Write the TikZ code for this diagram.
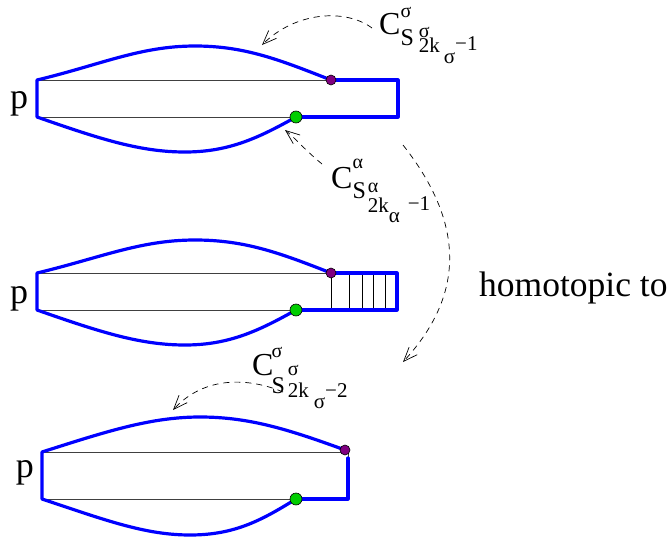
\documentclass[tikz,border=0pt]{standalone}
\usepackage{fontspec}
\setmainfont{Liberation Serif}
\usetikzlibrary{arrows.meta}
\definecolor{fblue}{RGB}{0,0,255}
\definecolor{fpurple}{RGB}{128,0,128}
\definecolor{fgreen}{RGB}{0,205,0}
\newcommand\fC{\fontsize{32}{32}\selectfont}
\newcommand\fS{\fontsize{24}{24}\selectfont}
\newcommand\fG{\fontsize{20}{20}\selectfont}
\newcommand\fK{\fontsize{21}{21}\selectfont}
\newcommand\sx[2]{\raisebox{#1pt}{#2}}
\begin{document}
\begin{tikzpicture}[x=1pt,y=-1pt,
  blueline/.style={draw=fblue,line width=3.2pt,line join=round,line cap=round},
  thinline/.style={draw=black!75,line width=0.8pt},
  hatch/.style={draw=black,line width=0.8pt},
  dot/.style={circle,draw=black,line width=0.6pt,inner sep=0pt,minimum size=#1},
  conn/.style={dash pattern=on 6pt off 5pt,line width=0.7pt,-{Straight Barb[length=14pt,width=11pt]}},
  lab/.style={anchor=base west,inner sep=0pt},
  plab/.style={anchor=base,inner sep=0pt,font=\fontsize{36}{36}\selectfont}]
\useasboundingbox (0,0) rectangle (670,541);

% ---------- top figure ----------
\node[plab] (p1) at (19,108) {p};
\draw[thinline] (37,80) -- (331,80);
\draw[thinline] (37,117) -- (296,117);
\draw[blueline] (331,80) -- (398,80) -- (398,117) -- (296,117);
\draw[blueline] (296,117) .. controls (260,137) and (230,152) .. (185,152)
  .. controls (140,152) and (100,139) .. (37,117) -- (37,80)
  .. controls (100,65) and (140,46) .. (195,46)
  .. controls (245,46) and (280,60) .. (331,80);
\node[dot=10pt,fill=fpurple] (pu1) at (331,80) {};
\node[dot=12pt,fill=fgreen] (gr1) at (296,117) {};

% ---------- middle figure ----------
\node[plab] (p2) at (19,303) {p};
\draw[thinline] (37,273) -- (331,273);
\draw[thinline] (37,310) -- (296,310);
\foreach \hx in {331,349,362,373,385} {\draw[hatch] (\hx,273) -- (\hx,310);}
\draw[blueline] (331,273) -- (397,273) -- (397,310) -- (296,310);
\draw[blueline] (296,310) .. controls (260,330) and (230,345) .. (185,345)
  .. controls (140,345) and (100,332) .. (37,310) -- (37,273)
  .. controls (100,258) and (140,240) .. (195,240)
  .. controls (245,240) and (280,253) .. (331,273);
\node[dot=10pt,fill=fpurple] (pu2) at (331,273) {};
\node[dot=12pt,fill=fgreen] (gr2) at (296,310) {};

% ---------- bottom figure ----------
\node[plab] (p3) at (25,477) {p};
\draw[thinline] (42,452) -- (345,452);
\draw[thinline] (42,499) -- (296,499);
\draw[thinline] (348,452) -- (348,458);
\draw[blueline] (348,458) -- (348,499) -- (296,499);
\draw[blueline] (296,499) .. controls (262,520) and (235,535) .. (190,535)
  .. controls (145,535) and (105,520) .. (42,499) -- (42,452)
  .. controls (105,432) and (150,417) .. (200,417)
  .. controls (250,417) and (290,430) .. (345,450);
\node[dot=10pt,fill=fpurple] (pu3) at (345,450) {};
\node[dot=12pt,fill=fgreen] (gr3) at (296,499) {};

% ---------- labels ----------
\node[lab] (c1) at (379,34) {{\fC C}\rlap{\sx{17}{\fG σ}}\sx{-11}{\fS S\kern5pt\rlap{\sx{8}{\fG σ}}\sx{-7}{\fK 2k\kern4pt\sx{-11}{σ}\sx{2}{−1}}}};
\node[lab] (c2) at (331,188) {{\fC C}\rlap{\sx{20}{\fG α}}\sx{-10}{\fS S\kern2pt\rlap{\sx{6}{\fG α}}\sx{-14}{\fK 2k\sx{-10}{α}\kern8pt\sx{2}{−1}}}};
\node[lab] (c3) at (252,375) {{\fC C}\kern-2pt\rlap{\sx{18}{\fG σ}}\sx{-18}{\fS S\kern3pt\rlap{\sx{18}{\fG σ}}\sx{-4}{\fK 2k\kern5pt\sx{-11}{σ}\sx{0}{−2}}}};
\node[anchor=base west,inner sep=0pt,font=\fontsize{35.5}{36}\selectfont] (hom) at (479,296) {homotopic to};

% ---------- connectors ----------
\coordinate (t1) at (262,45);
\coordinate (t2) at (285,130);
\coordinate (s3) at (403,145);
\coordinate (t3) at (403,362);
\coordinate (t4) at (173,410);
\draw[conn] ([xshift=-7pt,yshift=6pt]c1.base west) .. controls (345,8) and (295,12) .. (t1);
\draw[conn] ([xshift=-9pt,yshift=24pt]c2.base west) .. controls (305,150) and (295,138) .. (t2);
\draw[conn] (s3) .. controls (470,230) and (460,300) .. (t3);
\draw[conn] ([xshift=31pt,yshift=-17pt]c3.base west) .. controls (250,378) and (205,375) .. (t4);
\end{tikzpicture}
\end{document}
